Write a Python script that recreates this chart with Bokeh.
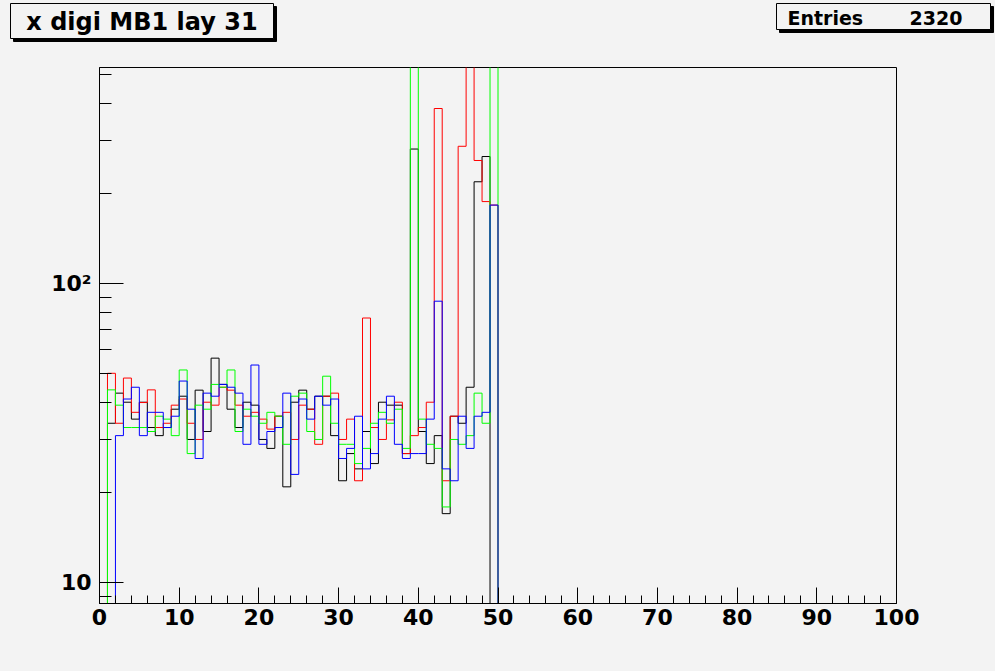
import numpy as np
from bokeh.plotting import figure
from bokeh.layouts import column
from bokeh.models import Range1d, FixedTicker
from bokeh.core.properties import value
from bokeh.embed import file_html
from bokeh.resources import INLINE

# ---------------- data (bin contents, bins of width 1 from 0 to 100) ----------------
NBINS = 100
XLOW, XHIGH = 0, 100
# bins 0..49 (bins 50..99 are empty)
black = [0, 34.1, 43.0, 40.1, 35.2, 40.1, 33.0, 31.0, 33.0, 38.0,
         42.0, 30.1, 44.0, 32.0, 56.3, 46.0, 38.0, 33.0, 40.1, 39.2,
         30.1, 28.1, 36.0, 20.9, 40.1, 44.0, 38.0, 42.0, 42.0, 31.0,
         21.9, 27.0, 24.0, 32.0, 25.0, 40.1, 39.2, 39.2, 27.0, 281.8,
         32.0, 25.0, 31.0, 17.0, 36.0, 34.1, 45.0, 219.0, 266.0, 0]
red = [0, 50.1, 34.1, 48.3, 37.1, 40.0, 44.1, 33.0, 34.1, 39.2,
       41.1, 34.1, 30.1, 40.1, 39.2, 45.0, 44.0, 39.2, 36.0, 37.1,
       35.2, 32.6, 36.0, 37.1, 30.1, 39.2, 38.0, 29.0, 42.0, 43.0,
       30.1, 35.2, 21.9, 76.7, 33.0, 30.1, 35.0, 40.1, 27.0, 31.0,
       33.0, 40.1, 385.0, 21.9, 36.0, 287.8, 700.0, 258.0, 188.0, 183.0]
green = [0, 44.1, 39.2, 33.0, 33.0, 33.0, 32.0, 36.0, 35.2, 31.0,
         51.4, 27.0, 39.2, 38.0, 46.0, 45.0, 51.4, 32.0, 38.0, 36.0,
         34.1, 37.1, 36.0, 29.0, 42.0, 43.0, 32.0, 30.1, 49.0, 34.1,
         29.0, 29.0, 25.0, 28.1, 34.1, 37.1, 34.1, 38.0, 28.1, 700.0,
         35.2, 29.0, 28.1, 17.9, 30.1, 29.0, 31.0, 43.0, 34.1, 700.0]
blue = [0, 0, 31.0, 41.1, 45.0, 31.0, 37.1, 37.1, 33.0, 36.0,
        47.2, 38.0, 26.0, 43.0, 42.0, 46.0, 45.0, 43.0, 29.0, 53.4,
        29.0, 32.0, 33.0, 43.0, 23.0, 41.1, 35.2, 42.0, 39.2, 41.1,
        26.0, 28.1, 36.0, 24.0, 27.0, 35.2, 42.0, 29.0, 26.0, 27.0,
        27.0, 35.2, 87.3, 24.0, 21.9, 36.0, 28.1, 36.0, 37.1, 183.0]
series = [("black", black), ("red", red), ("#00ff00", green), ("blue", blue)]

x_ticks = list(range(0, 101, 10))
x_minor = [v for v in range(0, 101, 2) if v % 10]
y_ticks = [10, 100]
y_minor = [9, 20, 30, 40, 50, 60, 70, 80, 90, 200, 300, 400, 500]
y_labels = {10: "10", 100: "10\u00b2"}

TITLE = "x digi MB1 lay 31"
STATS_NAME = "Entries"
ENTRIES = 2320

YMIN, YMAX = 8.51, 528.0
BG = "#f3f3f3"
FONT = "DejaVu Sans"
W, H, HEAD = 995, 671, 67

# ---------------- header strip (title box + stats box), 1 unit = 1 px ----------------
hd = figure(width=W, height=HEAD, x_range=Range1d(0, W), y_range=Range1d(HEAD, 0),
            output_backend="svg", toolbar_location=None,
            x_axis_location=None, y_axis_location=None,
            min_border_left=0, min_border_right=0, min_border_top=0, min_border_bottom=0)
hd.frame_align = False
hd.background_fill_color = BG
hd.border_fill_color = BG
hd.outline_line_color = None
hd.grid.visible = False

# title box: shadow then box
hd.quad(left=[13], right=[276], top=[6], bottom=[41], fill_color="black", line_color="black")
hd.quad(left=[10], right=[273], top=[3], bottom=[38], fill_color=BG, line_color="black", line_width=1)
hd.text(x=[141.5], y=[21], text=[TITLE], text_font=value(FONT), text_font_size="24px",
        text_font_style="bold", text_color="black", text_align="center", text_baseline="middle")

# stats box
hd.quad(left=[779], right=[993], top=[6], bottom=[32], fill_color="black", line_color="black")
hd.quad(left=[776], right=[990], top=[3], bottom=[29], fill_color=BG, line_color="black", line_width=1)
hd.text(x=[787], y=[17], text=[STATS_NAME], text_font=value(FONT), text_font_size="19px",
        text_font_style="bold", text_color="black", text_align="left", text_baseline="middle")
hd.text(x=[962], y=[17], text=[str(ENTRIES)], text_font=value(FONT), text_font_size="19px",
        text_font_style="bold", text_color="black", text_align="right", text_baseline="middle")

# ---------------- main histogram frame ----------------
p = figure(width=W, height=H - HEAD, y_axis_type="log",
           x_range=Range1d(XLOW, XHIGH), y_range=Range1d(YMIN, YMAX),
           output_backend="svg", toolbar_location=None,
           min_border_left=99, min_border_right=99,
           min_border_top=0, min_border_bottom=68)
p.frame_align = False
p.background_fill_color = BG
p.border_fill_color = BG
p.outline_line_color = "black"
p.outline_line_width = 1
p.grid.visible = False

width = (XHIGH - XLOW) / NBINS
for color, vals in series:
    full = list(vals) + [0] * (NBINS - len(vals))
    xs, ys = [XLOW], [YMIN]
    for i, v in enumerate(full):
        vv = v if v > 0 else YMIN
        xs += [XLOW + i * width, XLOW + (i + 1) * width]
        ys += [vv, vv]
    xs.append(XHIGH)
    ys.append(YMIN)
    p.line(xs, ys, line_color=color, line_width=1)

xa = p.xaxis[0]
xa.ticker = FixedTicker(ticks=x_ticks, minor_ticks=x_minor)
xa.major_tick_in = 16
xa.major_tick_out = 0
xa.minor_tick_in = 8
xa.minor_tick_out = 0
xa.major_label_standoff = 5

ya = p.yaxis[0]
ya.ticker = FixedTicker(ticks=y_ticks, minor_ticks=y_minor)
ya.major_label_overrides = y_labels
ya.major_tick_in = 24
ya.major_tick_out = 0
ya.minor_tick_in = 12
ya.minor_tick_out = 0
ya.major_label_standoff = 8

for ax in (xa, ya):
    ax.axis_line_color = "black"
    ax.major_tick_line_color = "black"
    ax.minor_tick_line_color = "black"
    ax.major_label_text_font = FONT
    ax.major_label_text_font_style = "bold"
    ax.major_label_text_font_size = "22px"
    ax.major_label_text_color = "black"

layout = column(hd, p, spacing=0, styles={"background-color": BG})
open("out.html", "w").write(file_html(layout, INLINE))
